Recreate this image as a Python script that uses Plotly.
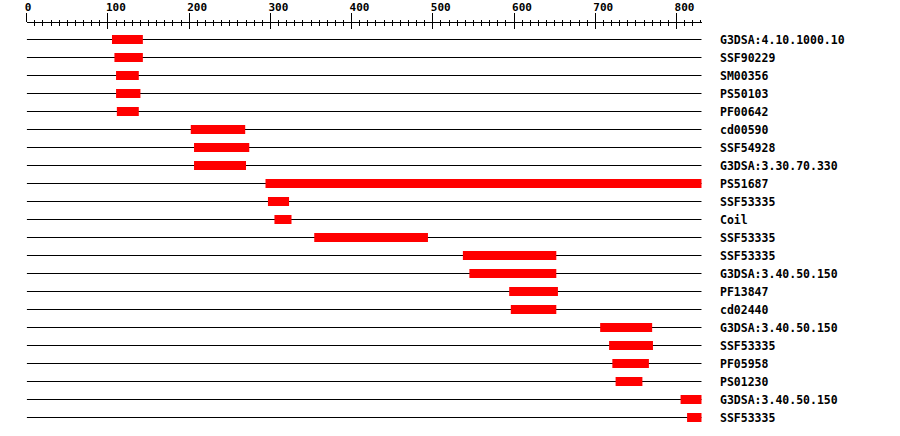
import plotly.graph_objects as go

# ---- data ----
seq_length = 831
labels = ["G3DSA:4.10.1000.10", "SSF90229", "SM00356", "PS50103", "PF00642",
          "cd00590", "SSF54928", "G3DSA:3.30.70.330", "PS51687", "SSF53335",
          "Coil", "SSF53335", "SSF53335", "G3DSA:3.40.50.150", "PF13847",
          "cd02440", "G3DSA:3.40.50.150", "SSF53335", "PF05958", "PS01230",
          "G3DSA:3.40.50.150", "SSF53335"]
starts = [105, 108, 110, 110, 111, 202, 206, 206, 294, 297, 305, 354,
          537, 545, 594, 596, 706, 717, 721, 725, 805, 813]
ends = [143, 143, 138, 140, 138, 269, 274, 270, 831, 323, 326, 494,
        652, 652, 654, 652, 770, 771, 766, 758, 831, 831]
tick_major = 100
tick_minor = 10

rows = list(range(len(labels)))
lengths = [e - s for s, e in zip(starts, ends)]

W, H = 900, 436
x_left_px, x_right_px = 26.7, 701.7
row0_px, row_step_px = 39.5, 18.0
axis_y_px = 22.0
label_x_px = 719

font_family = "DejaVu Sans Mono"

fig = go.Figure()
fig.add_trace(go.Bar(
    orientation="h", y=rows, x=lengths, base=starts, width=0.5,
    marker=dict(color="#ff0000", line=dict(width=0)),
    hoverinfo="skip", showlegend=False,
))
fig.add_trace(go.Scatter(x=[None], y=[None], xaxis="x2", yaxis="y",
                         showlegend=False, hoverinfo="skip"))

for r in rows:
    fig.add_shape(type="line", xref="x", yref="y", x0=0, x1=seq_length,
                  y0=r, y1=r, line=dict(color="black", width=1), layer="below")

y_top = -row0_px / row_step_px
y_bot = (H - row0_px) / row_step_px
dom = [x_left_px / W, x_right_px / W]
pos = 1 - axis_y_px / H

fig.update_layout(
    width=W, height=H,
    margin=dict(l=0, r=0, t=0, b=0, pad=0, autoexpand=False),
    paper_bgcolor="white", plot_bgcolor="white",
    showlegend=False,
    xaxis=dict(
        domain=dom, range=[0, seq_length], side="top", anchor="free",
        position=pos, showgrid=False, zeroline=False, automargin=False,
        showline=True, linecolor="black", linewidth=1,
        tick0=0, dtick=tick_major, ticks="outside", ticklen=9,
        tickcolor="black", tickwidth=1,
        ticklabelposition="outside right", ticklabelstandoff=7,
        ticklabelshift=-3,
        tickfont=dict(family=font_family, size=11, color="black", weight="bold"),
        minor=dict(dtick=tick_minor, ticks="outside", ticklen=2,
                   tickcolor="black", tickwidth=1, showgrid=False),
    ),
    xaxis2=dict(
        domain=dom, range=[0, seq_length], side="top", anchor="free",
        position=pos, overlaying="x", showgrid=False, zeroline=False,
        showline=False, showticklabels=False, automargin=False,
        tick0=0, dtick=tick_major, ticks="inside", ticklen=6,
        tickcolor="black", tickwidth=1,
        minor=dict(dtick=tick_minor, ticks="inside", ticklen=3,
                   tickcolor="black", tickwidth=1, showgrid=False),
    ),
    yaxis=dict(
        domain=[0, 1], range=[y_bot, y_top], side="right", anchor="free",
        position=label_x_px / W, showgrid=False, zeroline=False, showline=False,
        automargin=False,
        tickmode="array", tickvals=rows, ticktext=labels, ticks="",
        tickfont=dict(family=font_family, size=11.5, color="black", weight="bold"),
    ),
)

fig.write_html("out.html", config={"displayModeBar": False},
               post_script="document.body.style.margin='0';document.body.style.overflow='hidden';")
